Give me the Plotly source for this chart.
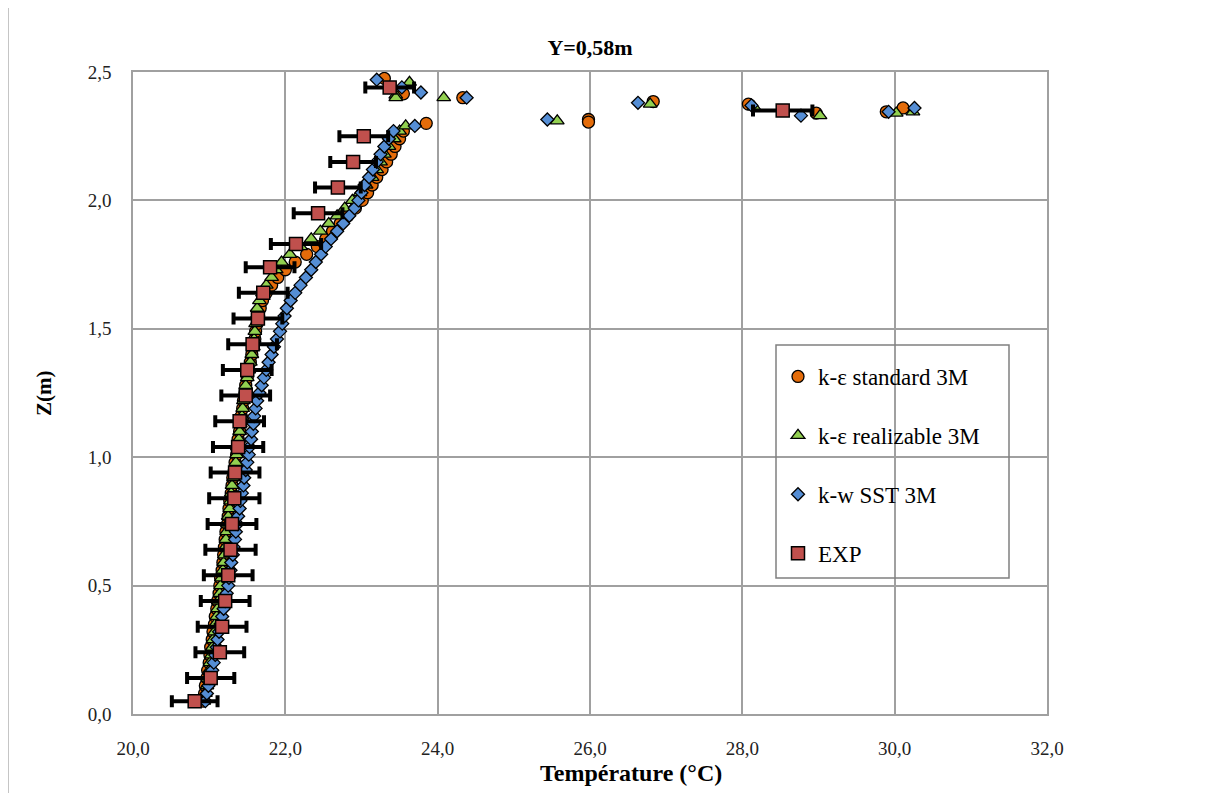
import plotly.graph_objects as go

# ---------------- data ----------------
z_profile = [0.05, 0.08, 0.11, 0.14, 0.17, 0.20, 0.23, 0.26, 0.29, 0.32, 0.35, 0.38, 0.41, 0.44, 0.47,
             0.50, 0.53, 0.56, 0.59, 0.62, 0.65, 0.68, 0.71, 0.74, 0.77, 0.80, 0.83, 0.86, 0.89, 0.92,
             0.95, 0.98, 1.01, 1.04, 1.07, 1.10, 1.13, 1.16, 1.19, 1.22, 1.25, 1.28, 1.31, 1.34, 1.37,
             1.40, 1.43, 1.46, 1.49, 1.52, 1.55, 1.58, 1.61, 1.64, 1.67, 1.70, 1.73, 1.76, 1.79, 1.82,
             1.85, 1.88, 1.91, 1.94, 1.97, 2.00, 2.03, 2.06, 2.09, 2.12, 2.15, 2.18, 2.21, 2.24, 2.27]

T_std = [20.92, 20.94, 20.95, 20.97, 20.98, 21.00, 21.01, 21.02, 21.04, 21.05, 21.07, 21.08, 21.10, 21.11, 21.13,
         21.14, 21.15, 21.17, 21.18, 21.19, 21.20, 21.21, 21.22, 21.24, 21.25, 21.26, 21.27, 21.29, 21.30, 21.31,
         21.33, 21.34, 21.36, 21.37, 21.38, 21.40, 21.41, 21.42, 21.44, 21.45, 21.47, 21.48, 21.50, 21.52, 21.54,
         21.56, 21.58, 21.60, 21.61, 21.63, 21.65, 21.67, 21.70, 21.75, 21.82, 21.90, 22.00, 22.13, 22.28, 22.42,
         22.53, 22.62, 22.72, 22.82, 22.92, 23.01, 23.08, 23.14, 23.20, 23.27, 23.33, 23.39, 23.44, 23.50, 23.55]

T_real = [20.93, 20.95, 20.97, 20.98, 21.00, 21.01, 21.03, 21.04, 21.05, 21.07, 21.08, 21.10, 21.11, 21.12, 21.14,
          21.15, 21.16, 21.18, 21.19, 21.20, 21.21, 21.22, 21.23, 21.24, 21.25, 21.27, 21.28, 21.29, 21.30, 21.32,
          21.33, 21.35, 21.36, 21.37, 21.39, 21.40, 21.41, 21.43, 21.44, 21.45, 21.47, 21.48, 21.50, 21.52, 21.54,
          21.56, 21.58, 21.59, 21.60, 21.61, 21.62, 21.63, 21.66, 21.70, 21.75, 21.82, 21.88, 21.95, 22.06, 22.20,
          22.34, 22.46, 22.57, 22.68, 22.78, 22.88, 22.98, 23.06, 23.14, 23.20, 23.25, 23.30, 23.36, 23.43, 23.50]

T_sst = [20.95, 20.97, 20.99, 21.01, 21.04, 21.06, 21.08, 21.10, 21.11, 21.13, 21.15, 21.17, 21.19, 21.21, 21.23,
         21.25, 21.26, 21.28, 21.29, 21.31, 21.32, 21.34, 21.35, 21.37, 21.38, 21.40, 21.41, 21.43, 21.45, 21.46,
         21.48, 21.50, 21.52, 21.53, 21.55, 21.56, 21.58, 21.59, 21.61, 21.63, 21.66, 21.69, 21.72, 21.75, 21.78,
         21.82, 21.85, 21.89, 21.93, 21.96, 21.99, 22.02, 22.07, 22.13, 22.20, 22.27, 22.34, 22.40, 22.47, 22.53,
         22.60, 22.68, 22.76, 22.84, 22.91, 22.96, 23.00, 23.04, 23.10, 23.15, 23.20, 23.25, 23.30, 23.36, 23.42]

# near-ceiling points
T_std_top = [23.85, 23.30, 23.55, 24.33, 25.98, 25.98, 26.83, 28.08, 28.97, 29.89, 30.11]
z_std_top = [2.30, 2.475, 2.415, 2.40, 2.315, 2.305, 2.385, 2.375, 2.34, 2.345, 2.36]

T_real_top = [23.58, 23.63, 23.45, 23.45, 24.08, 25.57, 26.79, 28.15, 29.02, 30.02, 30.24]
z_real_top = [2.29, 2.46, 2.41, 2.40, 2.40, 2.31, 2.375, 2.365, 2.33, 2.34, 2.345]

T_sst_top = [23.70, 23.20, 23.53, 23.78, 24.38, 25.44, 26.63, 28.12, 28.77, 29.92, 30.26]
z_sst_top = [2.29, 2.47, 2.44, 2.42, 2.40, 2.315, 2.38, 2.37, 2.33, 2.345, 2.36]

# experiment
T_exp = [20.81, 21.02, 21.14, 21.17, 21.21, 21.25, 21.28, 21.30, 21.33, 21.34, 21.38, 21.40, 21.48,
         21.50, 21.57, 21.64, 21.71, 21.80, 22.14, 22.43, 22.69, 22.89, 23.03, 28.53, 23.37]
z_exp = [0.05, 0.14, 0.24, 0.34, 0.44, 0.54, 0.64, 0.74, 0.84, 0.94, 1.04, 1.14, 1.24,
         1.34, 1.44, 1.54, 1.64, 1.74, 1.83, 1.95, 2.05, 2.15, 2.25, 2.35, 2.44]
err_exp = [0.30, 0.31, 0.32, 0.32, 0.32, 0.32, 0.33, 0.32, 0.33, 0.32, 0.33, 0.32, 0.32,
           0.32, 0.32, 0.32, 0.32, 0.32, 0.33, 0.32, 0.30, 0.30, 0.32, 0.39, 0.32]

x_ticks = [20, 22, 24, 26, 28, 30, 32]
y_ticks = [0.0, 0.5, 1.0, 1.5, 2.0, 2.5]

names = ["k-ε standard 3M", "k-ε realizable 3M", "k-w SST 3M", "EXP"]
colors = ["#E46C0A", "#92D050", "#558ED5", "#C0504D"]

FONT = "Liberation Serif"
GRID = "#A0A0A0"

fig = go.Figure()

fig.add_trace(go.Scatter(
    x=T_std + T_std_top, y=z_profile + z_std_top, mode="markers", name=names[0],
    legendgroup="a",
    marker=dict(symbol="circle", size=12, color=colors[0], line=dict(color="black", width=1.3))))

fig.add_trace(go.Scatter(
    x=T_real + T_real_top, y=z_profile + z_real_top, mode="markers", name=names[1],
    legendgroup="b",
    marker=dict(symbol="triangle-up", size=12, color=colors[1], line=dict(color="black", width=1.3))))

fig.add_trace(go.Scatter(
    x=T_sst + T_sst_top, y=z_profile + z_sst_top, mode="markers", name=names[2],
    legendgroup="c",
    marker=dict(symbol="diamond", size=10, color=colors[2], line=dict(color="black", width=1.3))))

fig.add_trace(go.Scatter(
    x=T_exp, y=z_exp, mode="markers", name=names[3],
    legendgroup="d",
    error_x=dict(type="data", array=err_exp, visible=True, color="black", thickness=4, width=6),
    marker=dict(symbol="square", size=13, color=colors[3], line=dict(color="black", width=1.5))))

# layout geometry: positions given in screenshot pixels, page has an 8px body offset
OFF = 8
W, H = 1216, 793
L, R, T, B = 133 - OFF, 1047 - OFF, 72 - OFF, 714 - OFF


def px(x):
    return (x - OFF - L) / (R - L)


def py(y):
    return (B - (y - OFF)) / (B - T)


shapes = [
    # legend frame
    dict(type="rect", xref="paper", yref="paper", x0=px(776), x1=px(1009), y0=py(578), y1=py(345),
         line=dict(color="#808080", width=1.5), fillcolor="rgba(0,0,0,0)", layer="above"),
    # chart outer frame (top & left)
    dict(type="line", xref="paper", yref="paper", x0=px(7.5), x1=px(1230), y0=py(7), y1=py(7),
         line=dict(color="#8C8C8C", width=2)),
    dict(type="line", xref="paper", yref="paper", x0=px(7.5), x1=px(7.5), y0=py(7), y1=py(820),
         line=dict(color="#8C8C8C", width=2)),
]

annotations = [
    dict(text="<b>Température (°C)</b>", xref="paper", yref="paper", x=px(631), y=py(773),
         xanchor="center", yanchor="middle", showarrow=False,
         font=dict(family=FONT, size=24, color="black")),
    dict(text="<b>Z(m)</b>", xref="paper", yref="paper", x=px(44), y=py(393),
         xanchor="center", yanchor="middle", showarrow=False, textangle=-90,
         font=dict(family=FONT, size=21, color="black")),
]

fig.update_layout(
    width=W, height=H,
    margin=dict(l=L, r=W - R, t=T, b=H - B),
    paper_bgcolor="white", plot_bgcolor="white",
    separators=", ",
    font=dict(family=FONT, size=18, color="#000000"),
    title=dict(text="<b>Y=0,58m</b>", x=px(590), xref="paper", xanchor="center",
               y=1 - (47 - OFF) / H, yref="container", yanchor="middle",
               font=dict(family=FONT, size=22, color="black")),
    xaxis=dict(range=[20, 32], tickvals=x_ticks, tickformat=".1f", showgrid=True,
               gridcolor=GRID, gridwidth=1.5, showline=True, linecolor=GRID, linewidth=1.5,
               mirror=True, zeroline=False, ticks="", ticklabelstandoff=16,
               tickfont=dict(family=FONT, size=19, color="#222")),
    yaxis=dict(range=[0, 2.5], tickvals=y_ticks, tickformat=".1f", showgrid=True,
               gridcolor=GRID, gridwidth=1.5, showline=True, linecolor=GRID, linewidth=1.5,
               mirror=True, zeroline=False, ticks="", ticklabelstandoff=16,
               tickfont=dict(family=FONT, size=19, color="#222")),
    legend=dict(x=px(778), y=py(355), xanchor="left", yanchor="top",
                bgcolor="rgba(0,0,0,0)", borderwidth=0, tracegroupgap=26,
                font=dict(family=FONT, size=23, color="black")),
    shapes=shapes,
    annotations=annotations,
    showlegend=True,
)

fig.write_html("out.html")
